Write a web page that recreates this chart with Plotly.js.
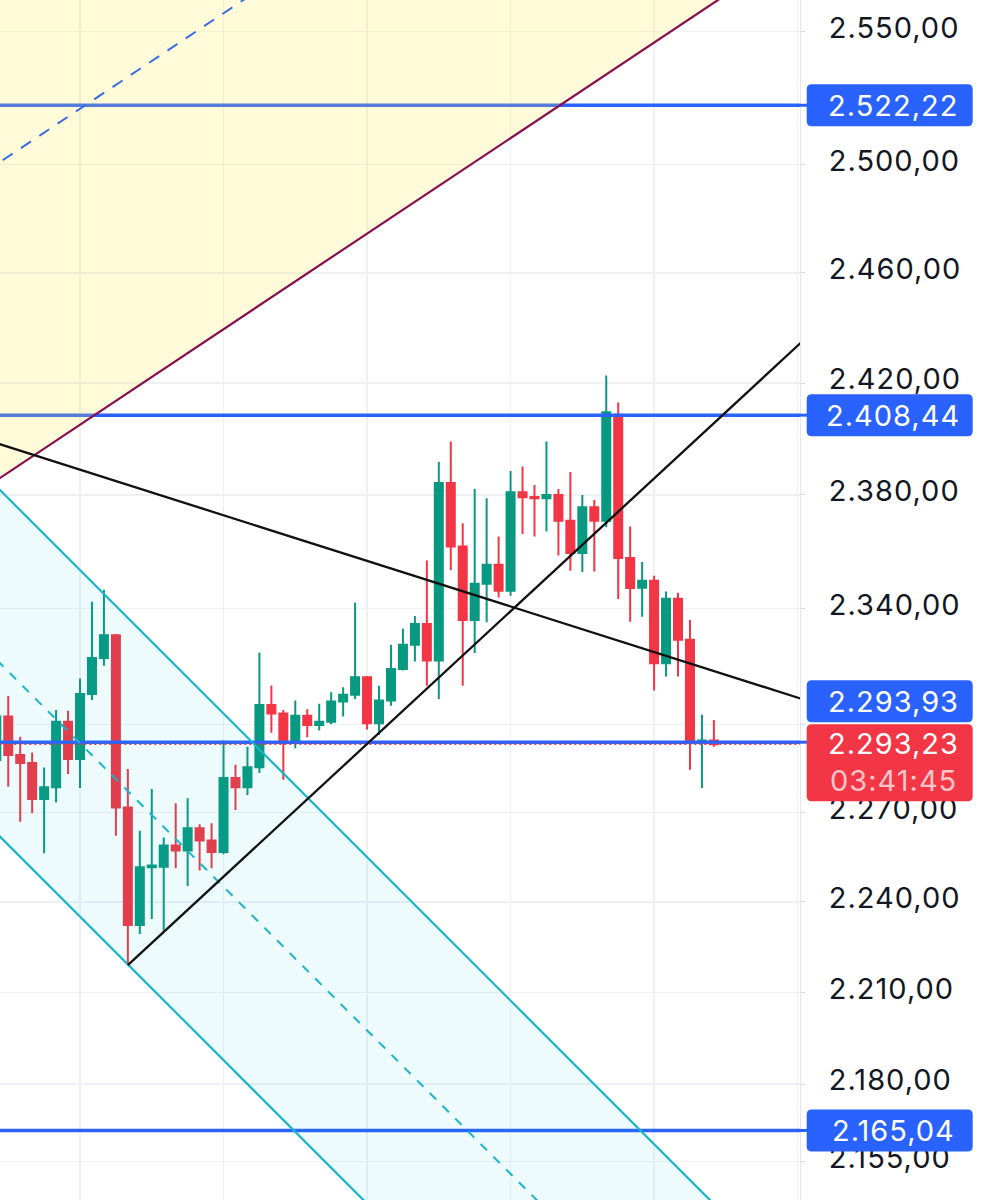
<!DOCTYPE html>
<html><head><meta charset="utf-8">
<script src="https://cdn.plot.ly/plotly-3.0.1.min.js"></script>
<style>
html,body{margin:0;padding:0;background:#fff;}
#chart{width:986px;height:1200px;}
#chart .ytick text, #chart .annotation-text{letter-spacing:1px;}
</style>
</head><body><div id="chart"></div>
<script>
// ---- candle data (bar index, OHLC) ----
const bars = [-1,0,1,2,3,4,5,6,7,8,9,10,11,12,13,14,15,16,17,18,19,20,21,22,23,24,25,26,27,28,29,30,31,32,33,34,35,36,37,38,39,40,41,42,43,44,45,46,47,48,49,50,51,52,53,54,55,56,57,58,59];
const openP = [2287.9,2302.7,2289.6,2286.8,2274.6,2278.6,2300.9,2288.2,2310.5,2322.9,2330.8,2271.7,2232.3,2251.6,2251.8,2258.9,2257.2,2264.7,2260.6,2256.7,2281.7,2278.6,2285.4,2306.7,2303.8,2294.1,2303.0,2299.8,2300.9,2307.9,2310.2,2316.2,2300.4,2308.2,2319.1,2327.5,2334.7,2322.0,2384.2,2361.8,2336.1,2348.7,2355.4,2346.3,2380.9,2379.3,2378.8,2380.0,2370.9,2359.5,2375.6,2370.9,2408.6,2357.7,2347.3,2349.8,2321.1,2343.5,2329.2,2293.8,2294.5];
const highP = [2308.4,2309.8,2295.8,2290.4,2285.3,2305.0,2304.7,2315.8,2342.4,2346.6,2331.2,2284.8,2263.9,2278.0,2261.6,2273.2,2274.9,2266.1,2266.4,2294.5,2286.2,2292.4,2324.8,2313.4,2305.0,2308.2,2305.2,2307.1,2311.1,2312.8,2342.1,2316.7,2313.3,2327.5,2333.0,2337.5,2356.9,2391.7,2399.0,2370.0,2382.1,2378.8,2365.3,2388.5,2390.1,2383.5,2399.0,2382.1,2388.1,2380.0,2378.2,2422.7,2413.0,2368.8,2356.3,2351.5,2346.0,2345.6,2336.1,2303.3,2301.5];
const lowP = [2286.2,2278.8,2266.9,2269.8,2256.3,2273.4,2283.1,2278.3,2308.4,2320.2,2262.2,2219.0,2229.3,2234.3,2230.4,2251.3,2245.3,2250.5,2251.3,2256.0,2270.9,2276.0,2283.4,2297.2,2281.1,2291.9,2295.6,2297.9,2300.1,2302.7,2308.7,2298.3,2296.4,2306.4,2318.6,2321.7,2313.3,2308.7,2353.4,2313.3,2324.6,2335.3,2343.9,2344.5,2366.2,2365.3,2367.1,2358.6,2353.3,2352.8,2353.0,2368.6,2343.4,2335.5,2337.2,2311.7,2316.5,2316.5,2284.5,2278.3,2292.4];
const closeP = [2302.7,2289.6,2286.8,2274.6,2278.6,2300.9,2288.2,2310.5,2322.9,2330.8,2271.7,2232.3,2251.6,2252.2,2258.9,2257.2,2264.7,2260.6,2256.7,2281.7,2278.6,2285.4,2306.7,2303.8,2294.1,2303.0,2299.8,2300.9,2307.9,2310.2,2316.2,2300.4,2308.2,2319.1,2327.5,2334.7,2322.0,2384.2,2361.8,2336.1,2348.7,2355.4,2346.3,2380.9,2379.2,2378.8,2380.0,2370.9,2359.5,2375.6,2370.9,2409.5,2357.7,2347.2,2349.8,2321.1,2343.5,2329.2,2293.8,2294.5,2293.23];

// ---- price axis ticks ----
const tickVals = [2155,2180,2210,2240,2270,2300,2340,2380,2420,2460,2500,2550];
const tickText = ['2.155,00','2.180,00','2.210,00','2.240,00','2.270,00','','2.340,00','2.380,00','2.420,00','2.460,00','2.500,00','2.550,00'];

// ---- horizontal levels ----
const levelPrices = [2522.22, 2408.44, 2293.93, 2165.04];
const levelLabels = ['2.522,22', '2.408,44', '2.293,93', '2.165,04'];
const lastPrice = 2293.23;
const lastLabel = '2.293,23';
const countdown = '03:41:45';

// ---- drawings (anchor bars / prices) ----
const lineBars = [-2, 68];
const yellowLower = [2382.3, 2588.5];
const yellowUpper = [2617.4, 2844.0];
const yellowMid = [2497.1, 2713.2];
const cyanUpper = [2387.3, 2107.4];
const cyanLower = [2267.2, 2001.4];
const cyanMid = [2326.5, 2053.7];
const fallLine = [2399.8, 2306.6];
const riseBars = [10, 68];
const riseLine = [2219.0, 2441.5];

const viewPrice = [2142.73, 2562.07];
const viewBars = [-0.69, 66.2];

const BLUE = '#2962FF', RED = '#F23645', GREEN = '#089981', CYAN = '#1AB5CB';
const traces = [];
// horizontal level lines
levelPrices.forEach(p => traces.push({type:'scatter', mode:'lines', x:lineBars, y:[p,p], line:{color:BLUE, width:3.5}, hoverinfo:'skip'}));
traces.push({type:'scatter', mode:'lines', x:lineBars, y:[lastPrice,lastPrice], line:{color:RED, width:1.5, dash:'2px,3px'}, hoverinfo:'skip'});
// yellow channel
traces.push({type:'scatter', mode:'lines', x:[lineBars[0],lineBars[1],lineBars[1],lineBars[0]], y:[yellowLower[0],yellowLower[1],yellowUpper[1],yellowUpper[0]], fill:'toself', fillcolor:'rgba(255,235,59,0.2)', line:{width:0}, hoverinfo:'skip'});
traces.push({type:'scatter', mode:'lines', x:lineBars, y:yellowMid, line:{color:'#3a6be0', width:2, dash:'12px,10px'}, hoverinfo:'skip'});
traces.push({type:'scatter', mode:'lines', x:lineBars, y:yellowLower, line:{color:'#880E4F', width:2.2}, hoverinfo:'skip'});
// cyan channel
traces.push({type:'scatter', mode:'lines', x:[lineBars[0],lineBars[1],lineBars[1],lineBars[0]], y:[cyanUpper[0],cyanUpper[1],cyanLower[1],cyanLower[0]], fill:'toself', fillcolor:'rgba(0,188,212,0.065)', line:{width:0}, hoverinfo:'skip'});
traces.push({type:'scatter', mode:'lines', x:lineBars, y:cyanUpper, line:{color:CYAN, width:2.2}, hoverinfo:'skip'});
traces.push({type:'scatter', mode:'lines', x:lineBars, y:cyanLower, line:{color:CYAN, width:2.2}, hoverinfo:'skip'});
traces.push({type:'scatter', mode:'lines', x:lineBars, y:cyanMid, line:{color:CYAN, width:2, dash:'9px,9px'}, hoverinfo:'skip'});
// black trend lines
traces.push({type:'scatter', mode:'lines', x:lineBars, y:fallLine, line:{color:'#111111', width:2.3}, hoverinfo:'skip'});
traces.push({type:'scatter', mode:'lines', x:riseBars, y:riseLine, line:{color:'#111111', width:2.3}, hoverinfo:'skip'});
// candles (on top of drawings)
traces.push({type:'candlestick', x:bars, open:openP, high:highP, low:lowP, close:closeP,
  increasing:{line:{color:GREEN, width:2}, fillcolor:GREEN},
  decreasing:{line:{color:RED, width:2}, fillcolor:RED}, whiskerwidth:0, hoverinfo:'skip'});

const W = 800, H = 1200;
const r0 = Math.log10(viewPrice[0]), r1 = Math.log10(viewPrice[1]);
const pyOf = p => (1 - (Math.log10(p) - r0) / (r1 - r0)) * H;
const X = v => (v / W).toFixed(5), Y = v => (1 - v / H).toFixed(5);
function rr(x0, x1, y0, y1, r) {
  return `M${X(x0+r)},${Y(y0)} L${X(x1-r)},${Y(y0)} Q${X(x1)},${Y(y0)} ${X(x1)},${Y(y0+r)} L${X(x1)},${Y(y1-r)} Q${X(x1)},${Y(y1)} ${X(x1-r)},${Y(y1)} L${X(x0+r)},${Y(y1)} Q${X(x0)},${Y(y1)} ${X(x0)},${Y(y1-r)} L${X(x0)},${Y(y0+r)} Q${X(x0)},${Y(y0)} ${X(x0+r)},${Y(y0)} Z`;
}
const shapes = [], annotations = [];
const BX0 = 806.7, BX1 = 972.7, TX = 893;
const FONT = 'Inter, "Noto Sans", sans-serif';
const FS = 29;
levelPrices.forEach((p, i) => {
  const ly = pyOf(p);
  const cy = (i === 2) ? ly - 41 : ly;
  shapes.push({type:'line', xref:'paper', yref:'paper', x0:X(800), x1:X(808), y0:Y(ly), y1:Y(ly), line:{color:BLUE, width:3}, layer:'above'});
  shapes.push({type:'path', xref:'paper', yref:'paper', path:rr(BX0, BX1, cy-21, cy+21, 5), fillcolor:BLUE, line:{width:0}, layer:'above'});
  annotations.push({xref:'paper', yref:'paper', x:X(TX), y:Y(cy), text:levelLabels[i], showarrow:false, xanchor:'center', yanchor:'middle', font:{family:FONT, size:FS, color:'#ffffff'}});
});
const lp = pyOf(lastPrice);
shapes.push({type:'path', xref:'paper', yref:'paper', path:rr(BX0, BX1, lp-20, lp+57, 5), fillcolor:RED, line:{width:0}, layer:'above'});
annotations.push({xref:'paper', yref:'paper', x:X(TX), y:Y(lp-1), text:lastLabel, showarrow:false, xanchor:'center', yanchor:'middle', font:{family:FONT, size:FS, color:'#ffffff'}});
annotations.push({xref:'paper', yref:'paper', x:X(TX), y:Y(lp+36), text:countdown, showarrow:false, xanchor:'center', yanchor:'middle', font:{family:FONT, size:FS, color:'rgba(255,255,255,0.72)'}});

const layout = {
  width:986, height:1200,
  margin:{l:0, r:186, t:0, b:0, pad:0},
  paper_bgcolor:'#ffffff', plot_bgcolor:'#ffffff',
  showlegend:false, separators:',.',
  boxgap:0.33, boxgroupgap:0,
  xaxis:{range:viewBars, showticklabels:false, ticks:'', tick0:6, dtick:12, showgrid:true, gridcolor:'#eef0f4', gridwidth:1.5, zeroline:false, showline:false, rangeslider:{visible:false}, fixedrange:true},
  yaxis:{type:'log', side:'right', range:[r0, r1], tickmode:'array', tickvals:tickVals, ticktext:tickText,
    showgrid:true, gridcolor:'#eef0f4', gridwidth:1.5, zeroline:false,
    showline:true, linecolor:'#e3e6ec', linewidth:1, ticks:'outside', ticklen:4, tickcolor:'#d6d9e0',
    ticklabelstandoff:18, ticklabelshift:-4, tickfont:{family:FONT, size:FS, color:'#131722'}, fixedrange:true},
  shapes:shapes, annotations:annotations
};
Plotly.newPlot('chart', traces, layout, {staticPlot:true, displayModeBar:false});
</script>
</body></html>
